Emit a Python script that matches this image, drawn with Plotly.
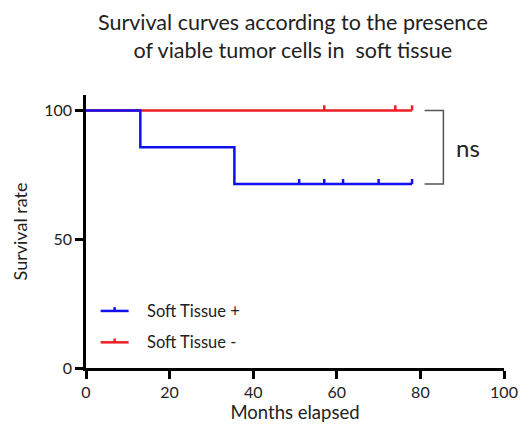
import plotly.graph_objects as go

# Data
pos_times = [0, 13, 35.5, 78]
pos_surv = [100, 85.7, 71.4, 71.4]
pos_censor = [51, 57, 61.5, 70, 78]
neg_times = [0, 78]
neg_surv = [100, 100]
neg_censor = [57, 74, 78]
series_names = ["Soft Tissue +", "Soft Tissue -"]
x_ticks = [0, 20, 40, 60, 80, 100]
y_ticks = [0, 50, 100]

BLUE = "#1010f0"
RED = "#ee1c24"
FONT = "Lato, Open Sans, sans-serif"
TXT = "#222222"

def surv_at(times, surv, t):
    v = surv[0]
    for ti, si in zip(times, surv):
        if ti <= t:
            v = si
    return v

def censor_segments(times, surv, cens, h=2.0):
    xs, ys = [], []
    for c in cens:
        v = surv_at(times, surv, c)
        xs += [c, c, None]
        ys += [v, v + h, None]
    return xs, ys

fig = go.Figure()
for times, surv, cens, col in [(neg_times, neg_surv, neg_censor, RED),
                                (pos_times, pos_surv, pos_censor, BLUE)]:
    fig.add_trace(go.Scatter(x=times, y=surv, mode="lines",
                             line=dict(color=col, width=2.5, shape="hv"),
                             showlegend=False, hoverinfo="skip"))
    cx, cy = censor_segments(times, surv, cens)
    fig.add_trace(go.Scatter(x=cx, y=cy, mode="lines",
                             line=dict(color=col, width=2.5),
                             showlegend=False, hoverinfo="skip"))

# significance bracket
top, bot = neg_surv[-1], pos_surv[-1]
fig.add_shape(type="path",
              path=f"M 81,{top} L 85.5,{top} L 85.5,{bot} L 81,{bot}",
              line=dict(color="#555555", width=1.5), xref="x", yref="y")
fig.add_annotation(x=88.0, y=(top + bot) / 2, text="ns", showarrow=False,
                   xanchor="left", yanchor="middle",
                   font=dict(family=FONT, size=24, color=TXT))

# title as annotation
fig.add_annotation(xref="paper", yref="paper", x=0.495, y=1.215,
                   text="Survival curves according to the presence<br>of viable tumor cells in  soft tissue",
                   showarrow=False, xanchor="center", yanchor="middle",
                   font=dict(family=FONT, size=21.5, color=TXT))

# manual legend
for i, (name, col) in enumerate(zip(series_names, [BLUE, RED])):
    yy = 0.209 - i * 0.115
    fig.add_shape(type="line", xref="paper", yref="paper",
                  x0=0.035, x1=0.102, y0=yy, y1=yy, line=dict(color=col, width=2.5))
    fig.add_shape(type="line", xref="paper", yref="paper",
                  x0=0.0685, x1=0.0685, y0=yy, y1=yy + 0.014, line=dict(color=col, width=2.5))
    fig.add_annotation(xref="paper", yref="paper", x=0.14, y=yy, text=name,
                       showarrow=False, xanchor="left", yanchor="middle",
                       font=dict(family=FONT, size=16.5, color=TXT))

fig.update_layout(
    width=522, height=423,
    margin=dict(l=77, r=23, t=87, b=63),
    plot_bgcolor="white", paper_bgcolor="white",
    xaxis=dict(range=[0, 100], tickvals=x_ticks, showgrid=False, zeroline=False,
               showline=True, linecolor="black", linewidth=2.5,
               ticks="outside", ticklen=8, tickwidth=2.5, tickcolor="black",
               tickfont=dict(family=FONT, size=16, color=TXT),
               title=dict(text="Months elapsed", font=dict(family=FONT, size=18.5, color=TXT), standoff=5)),
    yaxis=dict(range=[0, 106], tickvals=y_ticks, showgrid=False, zeroline=False,
               showline=True, linecolor="black", linewidth=2.5,
               ticks="outside", ticklen=8, tickwidth=2.5, tickcolor="black",
               tickfont=dict(family=FONT, size=16, color=TXT),
               title=dict(text="Survival rate", font=dict(family=FONT, size=18, color=TXT), standoff=12)),
)

fig.write_html("out.html")
